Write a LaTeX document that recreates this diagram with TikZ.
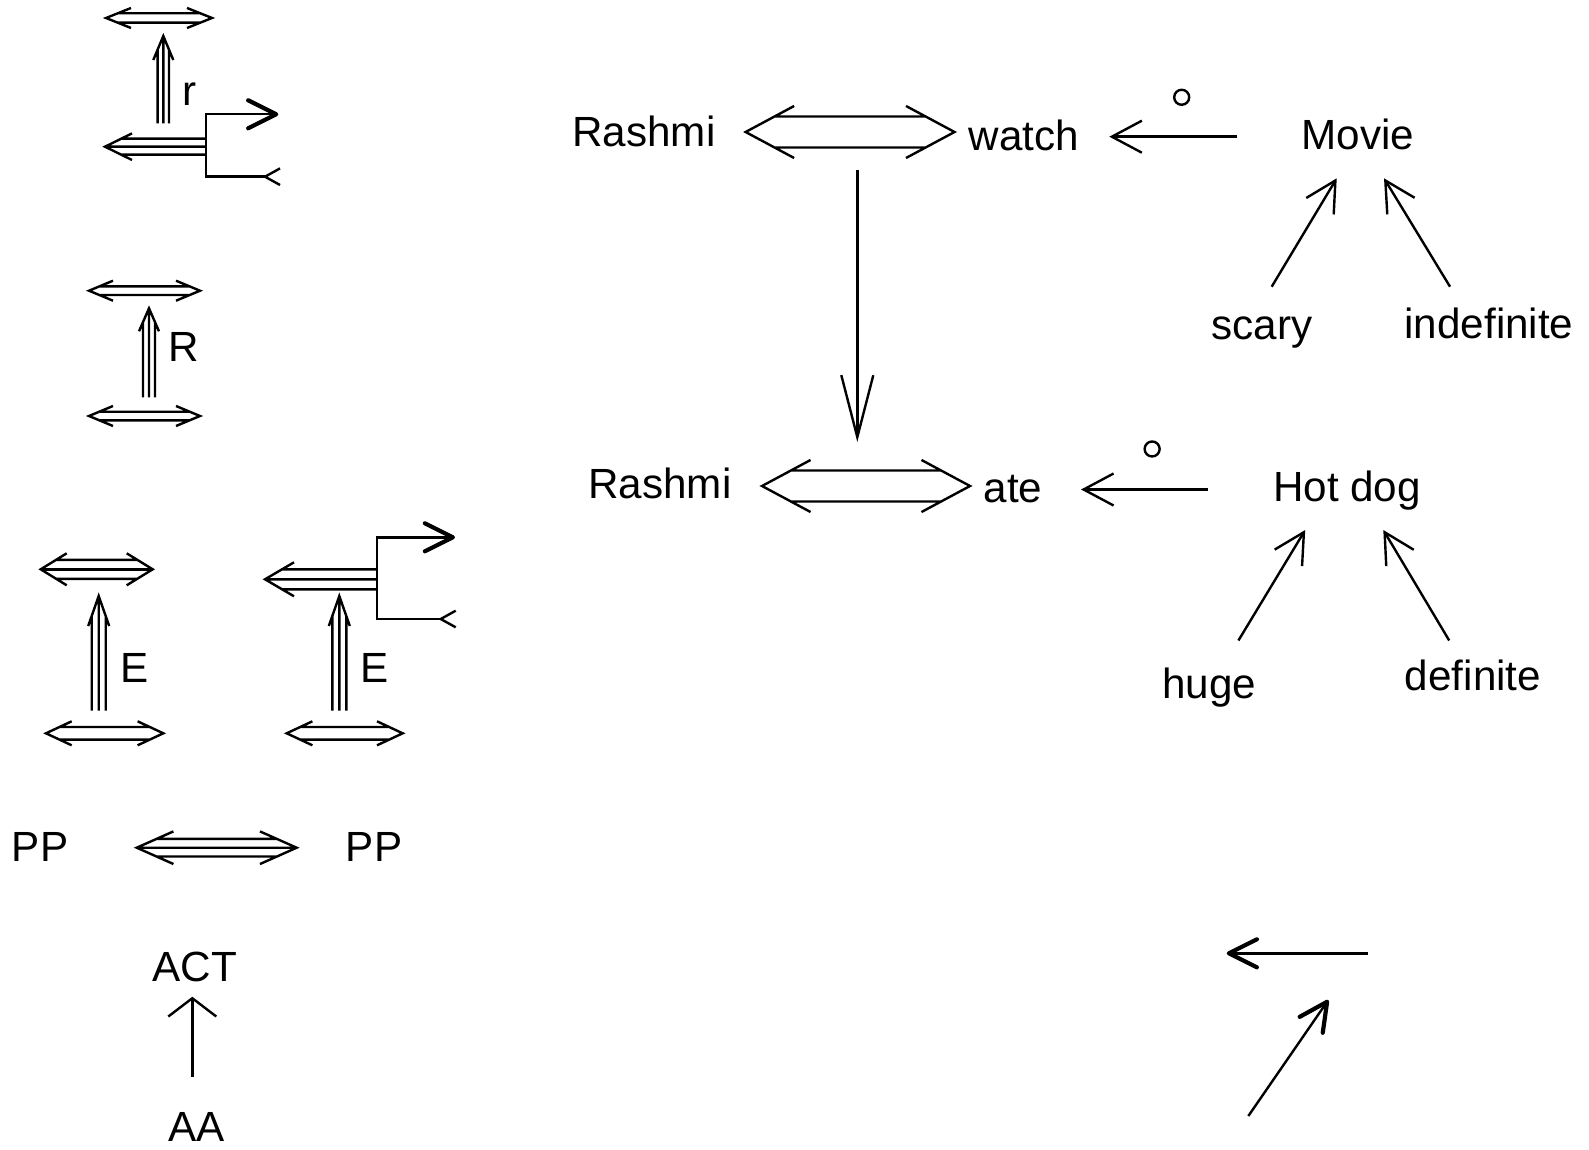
\documentclass[tikz,border=0pt]{standalone}
\usepackage{fontspec}
\setmainfont{Liberation Sans}
\usetikzlibrary{arrows.meta,calc}

\newcommand{\LgDbl}[6]{%
  \draw (#1+#4,#3-#5) -- (#1,#3) -- (#1+#4,#3+#5)
        (#2-#4,#3-#5) -- (#2,#3) -- (#2-#4,#3+#5)
        (#1+#4*#6/#5,#3-#6) -- (#2-#4*#6/#5,#3-#6)
        (#1+#4*#6/#5,#3+#6) -- (#2-#4*#6/#5,#3+#6);}
\newcommand{\LgTri}[6]{\LgDbl{#1}{#2}{#3}{#4}{#5}{#6}\draw (#1,#3) -- (#2,#3);}
\newcommand{\LgUp}[6]{%
  \draw (#1-#5,#3+#4) -- (#1,#3) -- (#1+#5,#3+#4)
        (#1,#2) -- (#1,#3)
        (#1-#6,#2) -- (#1-#6,#3+#4*#6/#5)
        (#1+#6,#2) -- (#1+#6,#3+#4*#6/#5);}
\newcommand{\LgLeft}[6]{%
  \draw (#1+#4,#3-#5) -- (#1,#3) -- (#1+#4,#3+#5)
        (#2,#3) -- (#1,#3)
        (#2,#3-#6) -- (#1+#4*#6/#5,#3-#6)
        (#2,#3+#6) -- (#1+#4*#6/#5,#3+#6);}
\newcommand{\LgBranch}[5]{%
  \draw[-thickhead] (#5,#3) -- (#1,#3) -- (#1,#2) -- (#4,#2);
  \draw (#5+15,#3-8.3) -- (#5,#3) -- (#5+15,#3+8.3);}

\tikzset{
  thickhead/.tip={Straight Barb[length=0.28cm,width=0.28cm,line width=0.042cm,round]},
  openhead/.tip={Straight Barb[length=0.30cm,width=0.32cm]},
  longhead/.tip={Straight Barb[length=0.62cm,width=0.32cm]},
  widehead/.tip={Straight Barb[length=0.183cm,width=0.48cm]},
  lbl/.style={inner sep=0pt, outer sep=0pt, anchor=base, font=\fontsize{12pt}{14pt}\selectfont},
  ocirc/.style={circle, draw, minimum size=0.15cm, inner sep=0pt},
  dblconn/.style n args={4}{to path={let \p1=(\tikztostart), \p2=(\tikztotarget) in
      (\x1+#1,\y1+#2) -- (\x1,\y1) -- (\x1+#1,\y1-#2)
      (\x2-#1,\y1+#2) -- (\x2,\y1) -- (\x2-#1,\y1-#2)
      (\x1+#4,\y1+#3) -- (\x2-#4,\y1+#3)
      (\x1+#4,\y1-#3) -- (\x2-#4,\y1-#3)}},
  triconn/.style n args={4}{to path={let \p1=(\tikztostart), \p2=(\tikztotarget) in
      (\x1+#1,\y1+#2) -- (\x1,\y1) -- (\x1+#1,\y1-#2)
      (\x2-#1,\y1+#2) -- (\x2,\y1) -- (\x2-#1,\y1-#2)
      (\x1+#4,\y1+#3) -- (\x2-#4,\y1+#3)
      (\x1+#4,\y1-#3) -- (\x2-#4,\y1-#3)
      (\x1,\y1) -- (\x2,\y1)}}
}

\begin{document}
\begin{tikzpicture}[x=0.01cm, y=-0.01cm, line width=0.024cm]
\useasboundingbox (0,0) rectangle (1589,1149);

% ---------- legend (left) ----------
\LgDbl{106}{212}{18}{25}{10}{4.7}
\LgUp{163.3}{123.3}{36}{24}{10}{5.7}
\node[lbl] (lr) at (190,106) {r};
\LgLeft{105}{206}{146.7}{27}{13.3}{8}
\LgBranch{206}{114.3}{176.7}{278.3}{265}

\LgDbl{89}{200}{290.7}{24}{10}{4.3}
\LgUp{149}{397.3}{308.3}{23}{10}{6}
\node[lbl] (lR) at (184,361.7) {R};
\LgDbl{89}{200}{416}{24}{10}{4.3}

\LgTri{40.7}{152.7}{569.3}{26}{16}{9.5}
\LgUp{98.7}{710.7}{596}{30}{10.5}{7}
\node[lbl] (lE1) at (135,682.3) {E};
\LgDbl{46}{163.3}{733.3}{25.7}{12}{6.3}

\LgLeft{265}{376.7}{579.3}{29}{17}{10}
\LgBranch{376.7}{537.3}{619}{455}{440.7}
\LgUp{339.3}{710.7}{596}{30}{10.5}{7}
\node[lbl] (lE2) at (375,682.3) {E};
\LgDbl{286.7}{402.7}{733.3}{25.7}{12}{6.3}

\node[lbl] (ppl) at (40,861.7) {PP};
\node[lbl] (ppr) at (374,861.7) {PP};
\draw[triconn={0.367cm}{0.163cm}{0.088cm}{0.198cm}]
  ([shift={(96.7,-14)}]ppl.base) to ([shift={(-77.3,-14)}]ppr.base);

\node[lbl] (act) at (194.7,981.7) {ACT};
\node[lbl] (aa) at (196.7,1141.7) {AA};
\draw[-widehead] ([shift={(-4.4,-65)}]aa.base) -- ([shift={(-2.4,15)}]act.base);

% ---------- main diagram ----------
\node[lbl] (r1) at (644,147) {Rashmi};
\node[lbl] (w1) at (1024,151) {watch};
\node[lbl] (m1) at (1358,150) {Movie};
\node[lbl] (s1) at (1262,339) {scary};
\node[lbl] (i1) at (1489,338) {indefinite};
\node[lbl] (r2) at (660,498) {Rashmi};
\node[lbl] (a2) at (1013,502) {ate};
\node[lbl] (h2) at (1347,501) {Hot dog};
\node[lbl] (u2) at (1209,698) {huge};
\node[lbl] (d2) at (1473,690) {definite};

\draw[dblconn={0.485cm}{0.26cm}{0.155cm}{0.289cm}]
  ([shift={(101.6,-15)}]r1.base) to ([shift={(-69.5,-19)}]w1.base);
\draw[dblconn={0.485cm}{0.26cm}{0.155cm}{0.289cm}]
  ([shift={(102,-12)}]r2.base) to ([shift={(-43,-16)}]a2.base);

\draw[-openhead] ([shift={(-121.3,-13.3)}]m1.base) --
  node[ocirc, pos=0.432, yshift=0.394cm] (c1) {} ([shift={(85.3,-14.3)}]w1.base);
\draw[-openhead] ([shift={(-139,-11.5)}]h2.base) --
  node[ocirc, pos=0.44, yshift=0.405cm] (c2) {} ([shift={(68,-12.5)}]a2.base);

\draw[-longhead] ([shift={(213.3,23)}]r1.base) -- ([shift={(197.3,-56)}]r2.base);

\draw[-openhead] ([shift={(9.7,-52.3)}]s1.base) -- ([shift={(-21.3,28.3)}]m1.base);
\draw[-openhead] ([shift={(-39,-51.3)}]i1.base) -- ([shift={(26,28.3)}]m1.base);
\draw[-openhead] ([shift={(29.4,-57.5)}]u2.base) -- ([shift={(-41.8,29)}]h2.base);
\draw[-openhead] ([shift={(-23.8,-49.5)}]d2.base) -- ([shift={(36.3,29)}]h2.base);

% ---------- bottom right ----------
\draw[-thickhead] (1368.3,953.3) -- (1226.7,953.3);
\draw[-thickhead] (1248.3,1116) -- (1328.3,1000);
\end{tikzpicture}
\end{document}
